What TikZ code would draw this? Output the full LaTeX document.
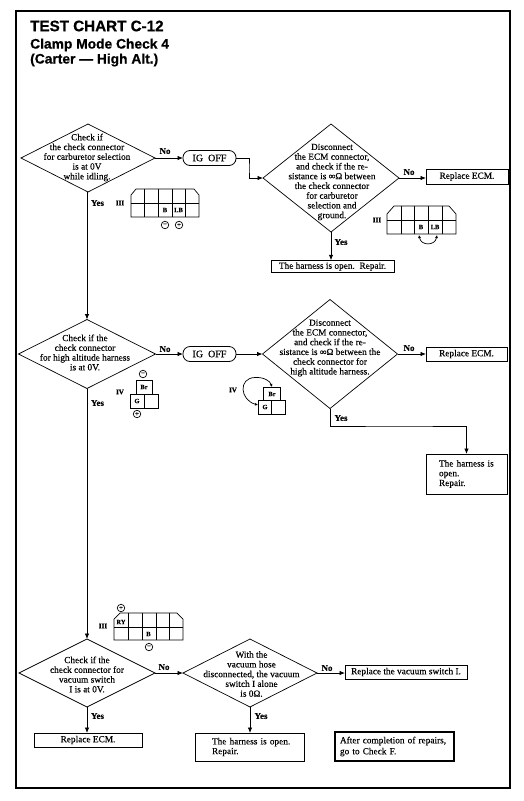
\documentclass[tikz,border=0pt]{standalone}
\usepackage{fontspec}
\setmainfont{Liberation Serif}[FakeBold=0.2]
\newfontfamily\headfont{Liberation Sans}[FakeBold=0.6]
\usetikzlibrary{shapes.geometric,arrows.meta}
\tikzset{
  decision/.style={diamond,draw,line width=0.7pt,inner sep=0pt,outer sep=0pt,aspect=2},
  dtext/.style={align=center,inner sep=0pt,font=\fontsize{9.3}{9.75}\selectfont},
  box/.style={draw,line width=0.8pt,inner sep=0pt,outer sep=0pt,align=center,font=\fontsize{9.3}{9.75}\selectfont},
  pill/.style={draw,line width=0.8pt,rounded corners=7pt,inner sep=0pt,outer sep=0pt,minimum width=53pt,minimum height=15pt,font=\fontsize{10}{11}\selectfont},
  flow/.style={line width=0.8pt,-{Latex[length=5.5pt,width=4.5pt]}},
  plain/.style={line width=0.8pt},
  tag/.style={inner sep=0pt,font=\fontsize{9}{10}\selectfont\bfseries},
  rom/.style={inner sep=0pt,font=\fontsize{7}{8}\selectfont\bfseries},
  pin/.style={inner sep=0pt,font=\fontsize{6.5}{7}\selectfont\bfseries},
  sign/.style={circle,draw,line width=0.7pt,inner sep=0pt,minimum size=7.5pt,font=\fontsize{7}{7}\selectfont\bfseries},
  conn/.style={line width=0.7pt},
  titleA/.style={anchor=west,inner sep=0pt,font=\fontsize{15.2}{17}\headfont\bfseries},
  titleB/.style={anchor=west,inner sep=0pt,font=\fontsize{13.8}{15}\headfont\bfseries}
}
\begin{document}
\begin{tikzpicture}[x=1pt,y=-1pt]
\useasboundingbox (0,0) rectangle (523,801);
\draw[line width=1.4pt] (16,11) rectangle (510,788);
\node[titleA] (t1) at (30,26) {TEST CHART C-12};
\node[titleB] (t2) at (30,45) {Clamp Mode Check 4};
\node[titleB] (t3) at (30,60) {(Carter — High Alt.)};

% decisions
\node[decision,minimum width=134pt,minimum height=68pt] (d1) at (88,158) {};
\node[dtext] (d1t) at (87,157.5) {Check if\\the check connector\\for carburetor selection\\is at 0V\\while idling.};
\node[decision,minimum width=136pt,minimum height=108pt] (d2) at (331,178) {};
\node[dtext] (d2t) at (332,182) {Disconnect\\the ECM connector,\\and check if the re-\\sistance is ∞Ω between\\the check connector\\for carburetor\\selection and\\ground.};
\node[decision,minimum width=137pt,minimum height=69pt] (d3) at (87,354) {};
\node[dtext] (d3t) at (85,352.5) {Check if the\\check connector\\for high altitude harness\\is at 0V.};
\node[decision,minimum width=135pt,minimum height=109pt] (d4) at (330,354) {};
\node[dtext] (d4t) at (330,348) {Disconnect\\the ECM connector,\\and check if the re-\\sistance is ∞Ω between the\\check connector for\\high altitude harness.};
\node[decision,minimum width=136pt,minimum height=68pt] (d5) at (87,673) {};
\node[dtext] (d5t) at (87,674.5) {Check if the\\check connector for\\vacuum switch\\I is at 0V.};
\node[decision,minimum width=134pt,minimum height=68pt] (d6) at (250,673) {};
\node[dtext] (d6t) at (251.5,674) {With the\\vacuum hose\\disconnected, the vacuum\\switch I alone\\is 0Ω.};

% process boxes
\node[pill] (ig1) at (209.5,158) {IG\ \ OFF};
\node[pill] (ig2) at (209.5,354) {IG\ \ OFF};
\node[box,minimum width=82pt,minimum height=15pt] (r1) at (467,176.5) {Replace ECM.};
\node[box,minimum width=123pt,minimum height=12.5pt] (o1) at (332.5,266.5) {The harness is open.\ \ Repair.};
\node[box,minimum width=81pt,minimum height=14pt] (r2) at (466.5,354) {Replace ECM.};
\node[box,minimum width=81pt,minimum height=40pt,align=left,text width=55pt] (o2) at (466.5,474) {The harness is\\open.\\Repair.};
\node[box,minimum width=108pt,minimum height=14pt] (r3) at (88,740) {Replace ECM.};
\node[box,minimum width=109pt,minimum height=28pt,align=left,text width=75pt] (o3) at (249.5,747) {\mbox{The harness is open.}\\Repair.};
\node[box,minimum width=122pt,minimum height=14pt] (r4) at (406,672) {Replace the vacuum switch I.};
\node[box,line width=1.8pt,minimum width=119pt,minimum height=29pt,align=left,text width=109pt,font=\fontsize{9.3}{11}\selectfont] (a1) at (394.5,746.5) {After completion of repairs,\\go to Check F.};

% connectors
\coordinate (k1) at (249,168);
\coordinate (k2) at (400,426);
\draw[flow] (d1.east) -- (ig1.west);
\draw[flow] (ig1.east) -| (k1) |- (d2.west);
\draw[flow] (d2.east) -- (d2.east -| r1.west);
\draw[flow] (d2.south) -- (d2.south |- o1.north);
\draw[flow] (d1.south -| d3.north) -- (d3.north);
\draw[flow] (d3.east) -- (ig2.west);
\draw[flow] (ig2.east) -- (d4.west);
\draw[flow] (d4.east) -- (r2.west);
\draw[flow] (d4.south) |- (k2) -| (o2.north);
\draw[flow] (d3.south) -- (d5.north);
\draw[flow] (d5.east) -- (d6.west);
\draw[flow] (d5.south) -- (d5.south |- r3.north);
\draw[flow] (d6.east) -- (d6.east -| r4.west);
\draw[flow] (d6.south) -- (d6.south |- o3.north);

% branch labels
\node[tag] (n1) at (165,151) {No};
\node[tag] (y1) at (97.5,203) {Yes};
\node[tag] (n2) at (409,172) {No};
\node[tag] (y2) at (341,242) {Yes};
\node[tag] (n3) at (165,349) {No};
\node[tag] (y3) at (97.5,403) {Yes};
\node[tag] (n4) at (409,348) {No};
\node[tag] (y4) at (341,418) {Yes};
\node[tag] (n5) at (164,667) {No};
\node[tag] (y5) at (97.5,716) {Yes};
\node[tag] (n6) at (327,668) {No};
\node[tag] (y6) at (261,716) {Yes};

% connector III, top left
\draw[conn] (131,203) -- (131,195) -- (136,189) -- (194,189) -- (199,195) -- (199,217) -- (131,217) -- cycle;
\draw[conn] (131,203) -- (199,203) (144,189) -- (144,217) (158,189) -- (158,217) (172,189) -- (172,217) (185,189) -- (185,217);
\node[rom] (c1r) at (120,203) {III};
\node[pin] (c1b) at (165,210) {B};
\node[pin] (c1l) at (178.5,210) {LB};
\node[sign] (c1m) at (165,225) {−};
\node[sign] (c1p) at (179,225) {+};

% connector III, top right
\draw[conn] (387,220) -- (387,214) -- (394,206) -- (449,206) -- (456,214) -- (456,234) -- (387,234) -- cycle;
\draw[conn] (387,220) -- (456,220) (401,206) -- (401,234) (414,206) -- (414,234) (428,206) -- (428,234) (442,206) -- (442,234);
\node[rom] (c2r) at (377,220) {III};
\node[pin] (c2b) at (421,227) {B};
\node[pin] (c2l) at (435,227) {LB};
\draw[line width=0.7pt,{Latex[length=3pt,width=3pt]}-{Latex[length=3pt,width=3pt]}] (419,235) .. controls (421,246) and (435,246) .. (437,235);

% connector IV, left
\draw[conn] (136,394) rectangle (152,380);
\draw[conn] (130,394) rectangle (158,408) (144,394) -- (144,408);
\node[rom] (c3r) at (120,392) {IV};
\node[pin] (c3a) at (144,387) {Br};
\node[pin] (c3g) at (137,401) {G};
\node[sign] (c3m) at (143,374) {−};
\node[sign] (c3p) at (137,414) {+};

% connector IV, right
\draw[conn] (263,400) rectangle (280,387);
\draw[conn] (258,400) rectangle (285,414) (271,400) -- (271,414);
\node[rom] (c4r) at (233,390) {IV};
\node[pin] (c4a) at (272,394) {Br};
\node[pin] (c4g) at (265,407) {G};
\draw[line width=0.7pt,{Latex[length=3pt,width=3pt]}-{Latex[length=3pt,width=3pt]}] (258,405) .. controls (240,400) and (238,378) .. (255,377.5) .. controls (264,377) and (270,381) .. (272,387);

% connector III, bottom
\draw[conn] (114,627) -- (114,619) -- (120,613) -- (177,613) -- (183,619) -- (183,640) -- (114,640) -- cycle;
\draw[conn] (114,627) -- (183,627) (128,613) -- (128,640) (142,613) -- (142,640) (156,613) -- (156,640) (169,613) -- (169,640);
\node[rom] (c5r) at (103,626) {III};
\node[pin] (c5a) at (121,622) {RY};
\node[pin] (c5b) at (148.5,634) {B};
\node[sign] (c5p) at (121,608) {+};
\node[sign] (c5m) at (149,647) {−};
\end{tikzpicture}
\end{document}
